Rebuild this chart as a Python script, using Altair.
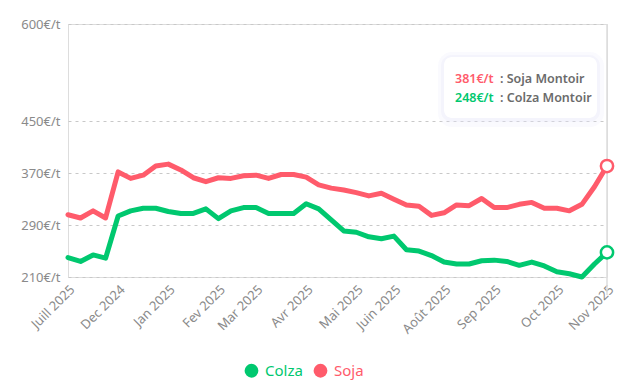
import altair as alt
import pandas as pd

# --- data ---------------------------------------------------------------
soja = [306, 301, 312, 301, 372, 362, 367, 381, 384, 375, 363, 357, 363, 362, 366,
        367, 362, 368, 368, 364, 352, 347, 344, 340, 335, 339, 330, 321, 319, 305,
        309, 321, 320, 331, 317, 317, 322, 325, 316, 316, 312, 322, 349, 381]
colza = [240, 234, 244, 239, 304, 312, 316, 316, 311, 308, 308, 315, 300, 312, 317,
         317, 308, 308, 308, 323, 315, 298, 281, 279, 272, 269, 273, 252, 250, 243,
         233, 230, 230, 235, 236, 234, 228, 233, 227, 218, 215, 210, 230, 248]
tick_idx = [0, 4, 8, 12, 15, 19, 23, 26, 30, 34, 39, 43]
tick_labels = ["Juill 2025", "Dec 2024", "Jan 2025", "Fev 2025", "Mar 2025", "Avr 2025",
               "Mai 2025", "Juin 2025", "Août 2025", "Sep 2025", "Oct 2025", "Nov 2025"]
y_ticks = [210, 290, 370, 450, 600]
series_names = ["Colza", "Soja"]
series_full = {"Colza": "Colza Montoir", "Soja": "Soja Montoir"}
colors = ["#00c86f", "#ff5b6b"]

n = len(soja)
idx = list(range(n))
df = pd.DataFrame({
    "i": idx * 2,
    "serie": ["Colza"] * n + ["Soja"] * n,
    "prix": colza + soja,
})
last = df[df["i"] == n - 1]

FONT = "Noto Sans"
W, H = 539, 253

lab_arr = [""] * n
for k, t in zip(tick_idx, tick_labels):
    lab_arr[k] = t
lab_expr = "[" + ",".join("'" + s + "'" for s in lab_arr) + "][datum.value]"

xscale = alt.Scale(domain=[0, n - 1], nice=False, zero=False, padding=0)
yscale = alt.Scale(domain=[210, 600], nice=False, zero=False)
cscale = alt.Scale(domain=series_names, range=colors)

base = alt.Chart(df)

lines = base.mark_line(strokeWidth=5, strokeJoin="round", strokeCap="round").encode(
    x=alt.X("i:Q", scale=xscale, title=None,
            axis=alt.Axis(values=tick_idx, labelExpr=lab_expr, labelAngle=-45,
                          labelColor="#8a8a8a", labelFontSize=13, labelFont=FONT,
                          grid=False, domain=False, ticks=False, labelPadding=6,
                          labelOverlap=False, labelBound=False, labelFlush=False)),
    y=alt.Y("prix:Q", scale=yscale, title=None,
            axis=alt.Axis(values=y_ticks, labelExpr="datum.value + '€/t'",
                          labelColor="#8a8a8a", labelFontSize=13, labelFont=FONT,
                          grid=True, gridDash=[3, 4], gridColor="#c8c8c8",
                          domain=False, ticks=False, labelPadding=8)),
    color=alt.Color("serie:N", scale=cscale, title=None,
                    legend=alt.Legend(orient="none", direction="horizontal",
                                      legendX=176, legendY=339,
                                      symbolType="circle", symbolSize=190,
                                      symbolStrokeWidth=0, symbolOpacity=1,
                                      labelFontSize=15, labelFont=FONT,
                                      labelColor={"expr": "datum.label == 'Colza' ? '%s' : '%s'" % (colors[0], colors[1])},
                                      columnPadding=10, labelOffset=6)),
)

rule = alt.Chart(last.head(1)).mark_rule(color="#dcdcdc", strokeWidth=1.5).encode(
    x=alt.X("i:Q", scale=xscale),
    y=alt.value(0), y2=alt.value(271),
)

pts = alt.Chart(last).mark_point(shape="circle", filled=True, fill="white",
                                 size=150, strokeWidth=2.5, opacity=1).encode(
    x=alt.X("i:Q", scale=xscale),
    y=alt.Y("prix:Q", scale=yscale),
    stroke=alt.Stroke("serie:N", scale=cscale, legend=None),
)

# tooltip box with a faint shadow
one = pd.DataFrame({"a": [0]})
shadows = [
    alt.Chart(one).mark_rect(color="#e4e5f7", opacity=0.18, cornerRadius=14).encode(
        x=alt.value(370), x2=alt.value(536), y=alt.value(28), y2=alt.value(103)),
    alt.Chart(one).mark_rect(color="#e4e5f7", opacity=0.25, cornerRadius=11).encode(
        x=alt.value(373), x2=alt.value(532), y=alt.value(31), y2=alt.value(98)),
]
box = alt.Chart(one).mark_rect(color="white", cornerRadius=8).encode(
    x=alt.value(376), x2=alt.value(529), y=alt.value(33), y2=alt.value(94))

tip = pd.DataFrame({
    "val": [f"{soja[-1]}€/t", f"{colza[-1]}€/t"],
    "name": [": " + series_full["Soja"], ": " + series_full["Colza"]],
    "serie": ["Soja", "Colza"],
    "row": [55, 74],
})
tip_val = alt.Chart(tip).mark_text(align="left", baseline="middle", fontSize=12.5,
                                   fontWeight=600, font=FONT).encode(
    x=alt.value(387), y=alt.Y("row:Q", scale=None), text="val:N",
    color=alt.Color("serie:N", scale=cscale, legend=None))
tip_name = alt.Chart(tip).mark_text(align="left", baseline="middle", fontSize=12.5,
                                    fontWeight=600, font=FONT, color="#6b6b6b").encode(
    x=alt.value(432), y=alt.Y("row:Q", scale=None), text="name:N")

chart = alt.layer(lines, rule, pts, *shadows, box, tip_val, tip_name).properties(
    width=W, height=H,
    autosize=alt.AutoSizeParams(type="none"),
    padding={"left": 60, "top": 16, "right": 15, "bottom": 105},
).configure_view(stroke=None).configure(font=FONT)

chart.save("out.html", embed_options={"renderer": "svg", "actions": False})
